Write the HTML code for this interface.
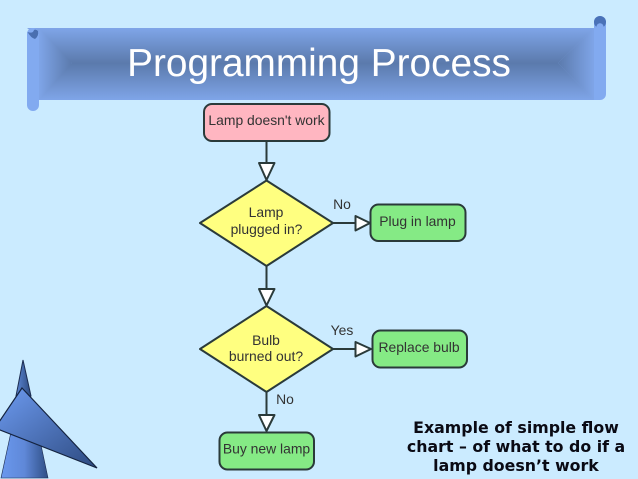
<!DOCTYPE html>
<html><head><meta charset="utf-8"><style>
html,body{margin:0;padding:0;background:#cbebff;overflow:hidden}
svg{display:block;position:absolute;left:0;top:0;filter:blur(0.35px)}
</style></head><body>
<svg width="638" height="479" viewBox="0 0 638 479" xmlns="http://www.w3.org/2000/svg">
<defs>
<linearGradient id="bt" x1="0" y1="0" x2="0" y2="1"><stop offset="0" stop-color="#7fa5e8"/><stop offset="1" stop-color="#5b7aac"/></linearGradient>
<linearGradient id="bb" x1="0" y1="0" x2="0" y2="1"><stop offset="0" stop-color="#5b7aac"/><stop offset="1" stop-color="#7fa5e8"/></linearGradient>
<linearGradient id="bl" x1="0" y1="0" x2="1" y2="0"><stop offset="0" stop-color="#7fa5e8"/><stop offset="1" stop-color="#5b7aac"/></linearGradient>
<linearGradient id="br" x1="0" y1="0" x2="1" y2="0"><stop offset="0" stop-color="#5b7aac"/><stop offset="1" stop-color="#7fa5e8"/></linearGradient>
<linearGradient id="tri1" x1="0" y1="0" x2="1" y2="1"><stop offset="0" stop-color="#6e9cf2"/><stop offset="1" stop-color="#2d4a80"/></linearGradient>
<linearGradient id="tri2" x1="0" y1="0" x2="1" y2="0"><stop offset="0" stop-color="#6a98ee"/><stop offset="0.5" stop-color="#5f88d8"/><stop offset="1" stop-color="#2f4e85"/></linearGradient>
<linearGradient id="tri3" x1="0" y1="0" x2="1" y2="0"><stop offset="0" stop-color="#5c86d4"/><stop offset="1" stop-color="#2c4a7e"/></linearGradient>
</defs>
<rect width="638" height="479" fill="#cbebff"/>

<!-- banner -->
<path d="M27 34 a6 6 0 0 1 6-6 H594 V100 H27 Z" fill="#7fa5e8"/>
<polygon points="27,28 594,28 558,63 72,63" fill="url(#bt)"/>
<polygon points="27,100 594,100 558,63 72,63" fill="url(#bb)"/>
<polygon points="39,28 72,63 39,100" fill="url(#bl)"/>
<polygon points="594,28 558,63 594,100" fill="url(#br)"/>
<path d="M594 22 a6 6 0 0 1 12 0 V94 a6 6 0 0 1 -6 6 H594 Z" fill="#82aaf0"/>
<circle cx="600" cy="22" r="6" fill="#4a72b8"/>
<path d="M597 25 a3.500 3.500 0 0 1 6 0 L606 32 H594 Z" fill="#82aaf0"/>
<path d="M27 34 a6 6 0 0 1 12 0 V105 a6 6 0 0 1 -12 0 Z" fill="#82aaf0"/>
<path d="M27.500 32 Q31 38 35 39 Q39 36 38 31 Q36 29 34 30 Q33 34 27.500 32Z" fill="#4a6fb0"/>
<text x="319" y="76" font-family="'Liberation Sans',sans-serif" font-size="38.800" fill="#fff" text-anchor="middle">Programming Process</text>

<!-- flowchart -->
<g stroke="#2a3a3a" stroke-width="2" stroke-linejoin="round">
<line x1="266.500" y1="141" x2="266.500" y2="164"/>
<polygon points="259,163 274.500,163 266.500,180" fill="#fff"/>
<line x1="266.500" y1="266" x2="266.500" y2="289"/>
<polygon points="259,289 274.500,289 266.500,305.500" fill="#fff"/>
<line x1="266.500" y1="392" x2="266.500" y2="415"/>
<polygon points="259,415 274.500,415 266.500,431" fill="#fff"/>
<line x1="333" y1="223" x2="356" y2="223"/>
<polygon points="355.500,216 355.500,230.500 370,223" fill="#fff"/>
<line x1="333" y1="349" x2="356" y2="349"/>
<polygon points="355.500,342 355.500,356.500 371,349" fill="#fff"/>
<rect x="204" y="104" width="125.500" height="37" rx="8" fill="#ffb6c1"/>
<polygon points="200,223 266.500,180.500 333,223 266.500,266" fill="#ffff80"/>
<polygon points="200,349 266.500,306 333,349 266.500,392" fill="#ffff80"/>
<rect x="370.500" y="204.500" width="95" height="36.500" rx="8" fill="#85ea85"/>
<rect x="372.500" y="330.500" width="94.500" height="37" rx="8" fill="#85ea85"/>
<rect x="219.500" y="432.500" width="94.500" height="37" rx="8" fill="#85ea85"/>
</g>
<g font-family="'Liberation Sans',sans-serif" font-size="13.900" fill="#333" text-anchor="middle">
<text x="266.500" y="125">Lamp doesn't work</text>
<text x="266" y="217">Lamp</text>
<text x="266.500" y="234">plugged in?</text>
<text x="266" y="345">Bulb</text>
<text x="266" y="361">burned out?</text>
<text x="417.500" y="226">Plug in lamp</text>
<text x="419" y="352">Replace bulb</text>
<text x="266.500" y="453.500">Buy new lamp</text>
<text x="342" y="209">No</text>
<text x="342" y="335">Yes</text>
<text x="285" y="404">No</text>
</g>

<!-- caption -->
<g font-family="'DejaVu Sans',sans-serif" font-size="15.800" font-weight="bold" fill="#0a0a14" text-anchor="middle">
<text x="516" y="433">Example of simple flow</text>
<text x="516" y="452">chart – of what to do if a</text>
<text x="516" y="471">lamp doesn’t work</text>
</g>

<!-- corner shape -->
<polygon points="23,360 16,396 31,396" fill="url(#tri3)" stroke="#1c2c50" stroke-width="1"/>
<polygon points="11,432 1,478 48,478 41,445" fill="url(#tri2)" stroke="#1c2c50" stroke-width="0.600"/>
<polygon points="22,388 97,468 -5,428" fill="url(#tri1)" stroke="#14233f" stroke-width="1.200"/>
</svg>
</body></html>
